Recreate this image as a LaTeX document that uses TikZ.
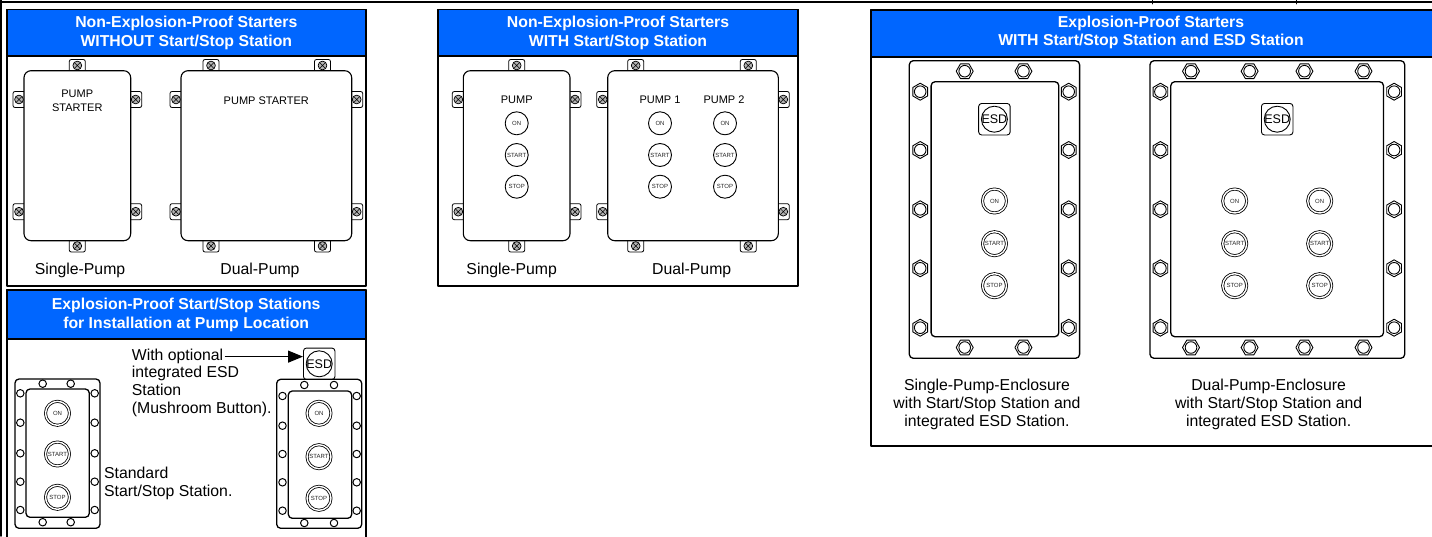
\documentclass[tikz,border=0pt]{standalone}
\usepackage{fontspec}
\setmainfont{Liberation Sans}
\usetikzlibrary{arrows.meta,shapes.geometric}
\definecolor{hdrblue}{RGB}{0,102,255}
\tikzset{
  tab/.pic={
    \draw[fill=white, line width=.8pt, rounded corners=2pt] (-8,-6) rectangle (8,9);
    \draw[fill=gray!60, line width=.7pt] (0,0) circle (4.4);
    \draw[line width=.5pt] (-3,-3)--(3,3) (-3,3)--(3,-3);
  }
}
\begin{document}
\begin{tikzpicture}[x=1pt, y=-1pt, line join=round, line cap=round,
  font=\fontsize{15.8}{18}\selectfont,
  frame/.style={draw, line width=1.8pt},
  hdr/.style={draw, line width=1.8pt, fill=hdrblue},
  ttl/.style={text=white, align=center, font=\fontsize{15.8}{18.8}\selectfont\bfseries},
  capt/.style={align=center},
  lbl/.style={align=center, font=\fontsize{11}{13.6}\selectfont},
  box/.style={draw, fill=white, line width=1.1pt, rounded corners=7pt},
  encl/.style={draw, fill=white, line width=1.3pt, rounded corners=4pt},
  btn/.style={circle, draw, fill=white, line width=.9pt, minimum size=23pt, inner sep=0pt,
    text=black!85, font=\fontsize{6}{6.5}\selectfont},
  xbtn/.style={btn, double, double distance=1.4pt, line width=.8pt, minimum size=24pt},
  hexb/.style={regular polygon, regular polygon sides=6, draw, fill=white, line width=.9pt,
    minimum size=17pt, inner sep=0pt,
    path picture={\draw[line width=.9pt] (path picture bounding box.center) circle (5.8pt);}},
  hexs/.style={hexb, shape border rotate=90},
  sb/.style={circle, draw, fill=white, line width=1pt, minimum size=7.5pt, inner sep=0pt},
  esd/.style={draw, fill=white, rounded corners=3pt, minimum size=31.5pt, inner sep=0pt,
    line width=.9pt, font=\fontsize{12.5}{13}\selectfont,
    path picture={\draw[line width=.9pt] (path picture bounding box.center) circle (13pt);}}]
\useasboundingbox (0,0) rectangle (1432,536);
\clip (0,0) rectangle (1432,536);
\draw[line width=1.6pt] (0,1.8) -- (1432,1.8);
\draw[line width=1.6pt] (1,0) -- (1,536);
\draw[line width=1pt] (1152,0) -- (1152,3.8) (1296,0) -- (1296,3.8);

% panel 1: starters without station
\draw[frame] (7,9.5) rectangle (365.7,285.7);
\draw[hdr] (7,9.5) rectangle (365.7,56);
\node[ttl] (t1) at (186.3,33) {Non-Explosion-Proof Starters\\WITHOUT Start/Stop Station};
\foreach \x/\y/\r in {77.3/65.5/0, 77.3/246/180, 19/99.5/90, 19/211.7/90, 135.7/99.5/-90, 135.7/211.7/-90,
    211/65.5/0, 322.5/65.5/0, 211/246/180, 322.5/246/180, 176/99.5/90, 176/211.7/90,
    356.7/99.5/-90, 356.7/211.7/-90}
  \pic[rotate=\r] at (\x,\y) {tab};
\draw[box] (24,70.7) rectangle (130.7,240.7) (181,70.7) rectangle (351.7,240.7);
\node[lbl] (s1) at (77.3,101) {PUMP\\STARTER};
\node[lbl] (d1) at (266.3,101) {PUMP STARTER};
\node[capt] (s1c) at (80,270.7) {Single-Pump};
\node[capt] (d1c) at (260,270.7) {Dual-Pump};

% panel 2: starters with station
\draw[frame] (438.3,9.5) rectangle (797.7,285.7);
\draw[hdr] (438.3,9.5) rectangle (797.7,56);
\node[ttl] (t2) at (618,33) {Non-Explosion-Proof Starters\\WITH Start/Stop Station};
\foreach \x/\y/\r in {516.7/65.5/0, 516.7/246/180, 458.3/99.5/90, 458.3/211.7/90, 575/99.5/-90, 575/211.7/-90,
    635.7/65.5/0, 748.3/65.5/0, 635.7/246/180, 748.3/246/180, 602.7/99.5/90, 602.7/211.7/90,
    783.3/99.5/-90, 783.3/211.7/-90}
  \pic[rotate=\r] at (\x,\y) {tab};
\draw[box] (463.3,70.7) rectangle (570,240.7) (607.7,70.7) rectangle (778.3,240.7);
\node[lbl] (s2) at (516.7,100) {PUMP};
\node[lbl] (d2a) at (660,100) {PUMP 1};
\node[lbl] (d2b) at (724,100) {PUMP 2};
\foreach \x [count=\i] in {516.7,660,725}
  {\node[btn] (on2\i) at (\x,123.3) {ON};
   \node[btn] (st2\i) at (\x,155) {START};
   \node[btn] (sp2\i) at (\x,186.7) {STOP};}
\node[capt] (s2c) at (511.7,270.7) {Single-Pump};
\node[capt] (d2c) at (691.7,270.7) {Dual-Pump};

% panel 3: explosion-proof starters
\draw[frame] (871,10) rectangle (1440,445.7);
\draw[hdr] (871,10) rectangle (1440,56.7);
\node[ttl] (t3) at (1151,32.5) {Explosion-Proof Starters\\WITH Start/Stop Station and ESD Station};
\draw[encl] (909.3,60.7) rectangle (1079.6,358.3);
\draw[encl] (931.1,81.7) rectangle (1058.8,336.7);
\draw[encl] (1150,60.7) rectangle (1404.7,358.3);
\draw[encl] (1170.8,81.7) rectangle (1383.5,336.7);
\foreach \x [count=\i] in {964.7,1023.4,1191,1249.6,1304.4,1363.5}
  {\node[hexb] (bt\i) at (\x,71.2) {};
   \node[hexb] (bb\i) at (\x,347.5) {};}
\foreach \y [count=\i] in {91.7,150,209.3,268.3,327.7}
  {\node[hexs] (bl\i) at (920.2,\y) {};
   \node[hexs] (br\i) at (1068.7,\y) {};
   \node[hexs] (dl\i) at (1160.4,\y) {};
   \node[hexs] (dr\i) at (1394.1,\y) {};}
\node[esd] (esd1) at (994.4,119.2) {ESD};
\node[esd] (esd2) at (1277.2,119.2) {ESD};
\foreach \x [count=\i] in {994.5,1234.7,1319.7}
  {\node[xbtn] (on3\i) at (\x,201) {ON};
   \node[xbtn] (st3\i) at (\x,243.7) {START};
   \node[xbtn] (sp3\i) at (\x,285.7) {STOP};}
\node[capt] (s3c) at (987,404.8) {Single-Pump-Enclosure\\with Start/Stop Station and\\integrated ESD Station.};
\node[capt] (d3c) at (1268.6,404.8) {Dual-Pump-Enclosure\\with Start/Stop Station and\\integrated ESD Station.};

% panel 4: stations at pump location
\draw[frame] (6.7,290) rectangle (365.7,545);
\draw[hdr] (6.7,290) rectangle (365.7,339.3);
\node[ttl] (t4) at (186.2,314.7) {Explosion-Proof Start/Stop Stations\\for Installation at Pump Location};
\draw[encl] (15,379) rectangle (100,528.3);
\draw[encl] (26,389) rectangle (89.3,517.3);
\foreach \x [count=\i] in {42.7,70.7}
  {\node[sb] (at\i) at (\x,383.7) {};
   \node[sb] (ab\i) at (\x,522.2) {};}
\foreach \y [count=\i] in {393.3,422.7,453.3,481.7,510}
  {\node[sb] (al\i) at (20.3,\y) {};
   \node[sb] (ar\i) at (94.7,\y) {};}
\node[xbtn] (on4a) at (57.5,413.3) {ON};
\node[xbtn] (st4a) at (57.5,454) {START};
\node[xbtn] (sp4a) at (57.5,497.3) {STOP};
\node[esd] (esdS) at (319.2,363.8) {ESD};
\draw[encl] (276.7,379.3) rectangle (361.7,528.3);
\draw[encl] (288.3,391) rectangle (351.7,518.3);
\foreach \x [count=\i] in {304.3,334}
  {\node[sb] (ct\i) at (\x,385) {};
   \node[sb] (cb\i) at (\x,523) {};}
\foreach \y [count=\i] in {396,425.7,454,482.3,510.7}
  {\node[sb] (cl\i) at (282.5,\y) {};
   \node[sb] (cr\i) at (356.7,\y) {};}
\node[xbtn] (on4b) at (319,413.3) {ON};
\node[xbtn] (st4b) at (319,456.7) {START};
\node[xbtn] (sp4b) at (319,498.3) {STOP};
\node[anchor=base west, inner sep=2pt] (opt) at (129.7,360.7) {With optional};
\node[anchor=north west, align=left, inner sep=2pt] (optb) at (129.7,364) {integrated ESD\\Station\\(Mushroom Button).};
\draw[line width=1.2pt, -{Triangle[length=15pt,width=12pt]}] (opt.east) -- (opt.east -| esdS.west);
\node[anchor=west, align=left, inner sep=2pt] (std) at (102,483.3) {Standard\\Start/Stop Station.};
\end{tikzpicture}
\end{document}
